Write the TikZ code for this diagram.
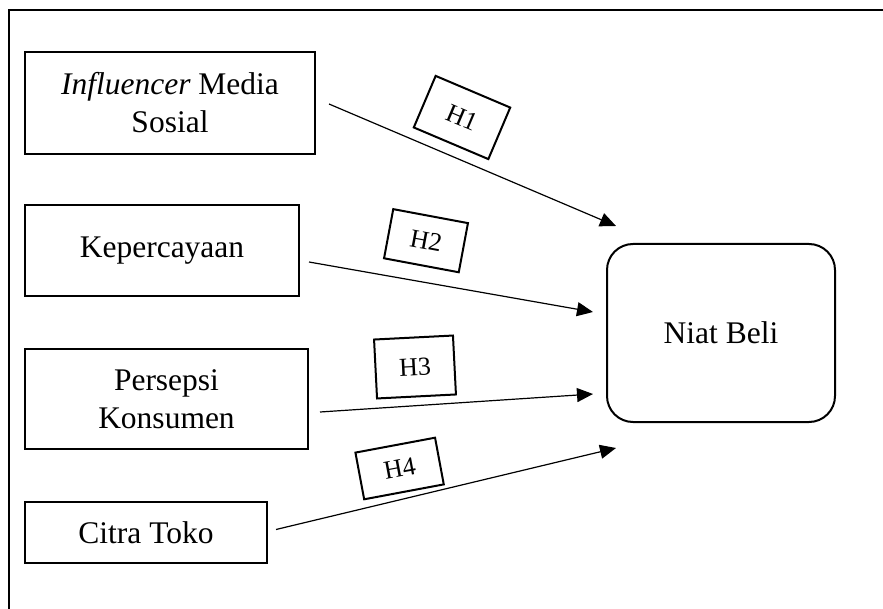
\documentclass[tikz,border=0pt]{standalone}
\usepackage{fontspec}
\setmainfont{Liberation Serif}
\usetikzlibrary{arrows.meta,calc}

\tikzset{
  varbox/.style={draw, line width=2pt, inner sep=0pt, align=center,
                 font=\fontsize{31.5}{38}\selectfont},
  hypbox/.style={draw, line width=2pt, inner sep=0pt,
                 font=\fontsize{26}{30}\selectfont},
  arr/.style={line width=1.2pt, -{Triangle[length=16pt,width=14pt]}},
  frameline/.style={line width=2.5pt}
}

\begin{document}
\begin{tikzpicture}[x=1pt,y=-1pt]
  \useasboundingbox (0,0) rectangle (883,609);

  % open frame: left and top edges
  \draw[frameline] (9,609) -- (9,10) -- (883,10);

  % independent variables
  \node[varbox, minimum width=290pt, minimum height=102pt] (inf) at (170,103)
    {\textit{Influencer} Media\\Sosial};
  \node[varbox, minimum width=274pt, minimum height=91pt] (kep) at (162,250.5)
    {Kepercayaan};
  \node[varbox, minimum width=283pt, minimum height=100pt] (per) at (166.5,399)
    {Persepsi\\Konsumen};
  \node[varbox, minimum width=242pt, minimum height=61pt] (cit) at (146,532.5)
    {Citra Toko};

  % dependent variable
  \node[varbox, rounded corners=26pt, minimum width=228pt, minimum height=178pt]
    (niat) at (721,333) {Niat Beli};

  % arrow ends in front of the dependent variable
  \coordinate (t1) at (616,226);
  \coordinate (t2) at (593,312);
  \coordinate (t3) at (593,394);
  \coordinate (t4) at (616,448);

  % hypothesis paths
  \draw[arr] ($(inf.east)+(13,1)$) -- (t1);
  \draw[arr] ($(kep.east)+(9,11.5)$) -- (t2);
  \draw[arr] ($(per.east)+(11,13)$) -- (t3);
  \draw[arr] ($(cit.east)+(8,-3)$) -- (t4);

  % hypothesis labels
  \node[hypbox, rotate=-23, minimum width=81pt, minimum height=56pt] (h1) at (462,117.5) {H1};
  \node[hypbox, rotate=-10.6, minimum width=76pt, minimum height=50pt] (h2) at (426,240.7) {H2};
  \node[hypbox, rotate=2.9, minimum width=79pt, minimum height=59pt] (h3) at (415,367) {H3};
  \node[hypbox, rotate=10.6, minimum width=81pt, minimum height=47.5pt] (h4) at (399.6,468.5) {H4};
\end{tikzpicture}
\end{document}
